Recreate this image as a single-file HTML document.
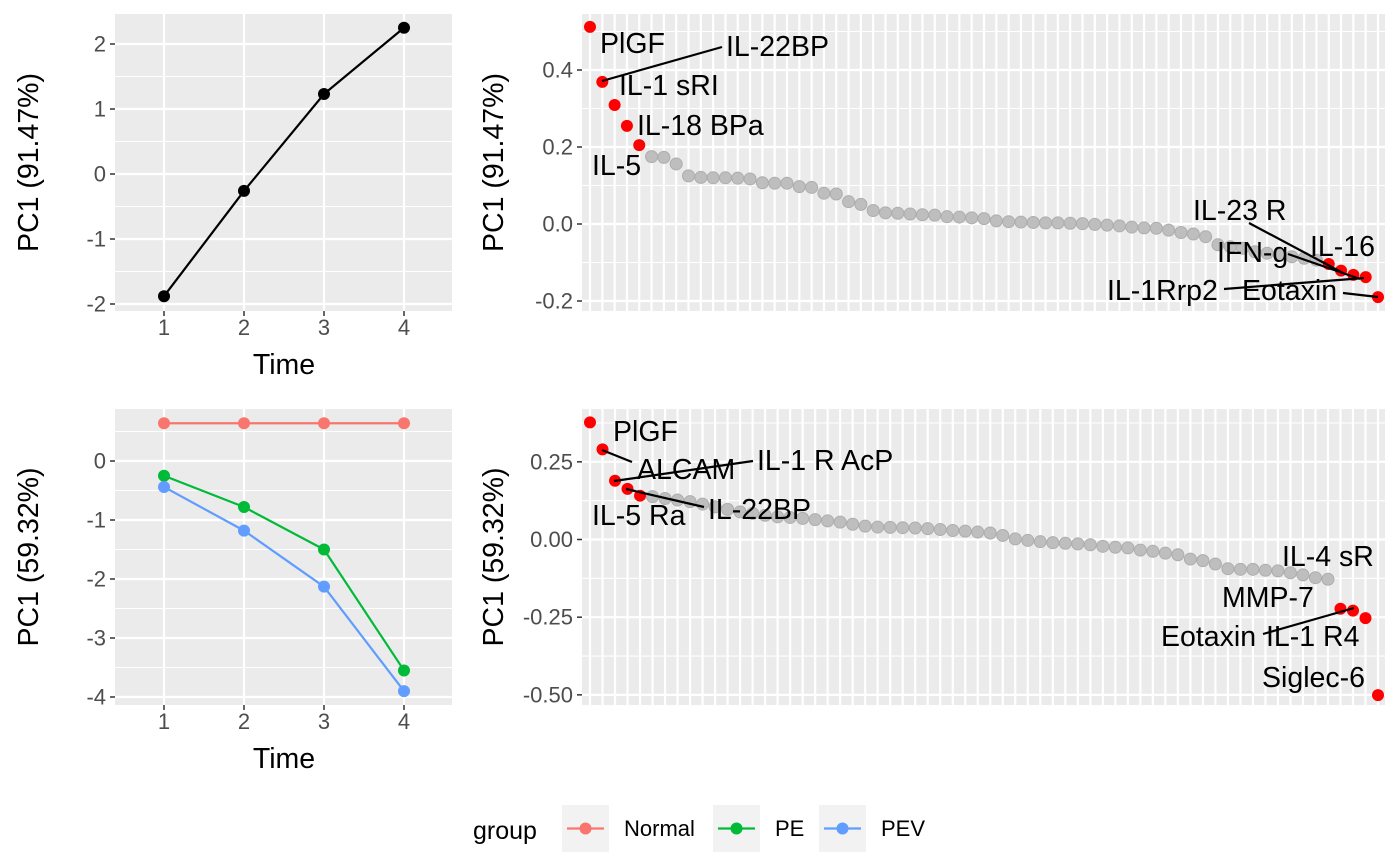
<!DOCTYPE html>
<html><head><meta charset="utf-8"><style>
body{margin:0;background:#fff;}
svg{display:block;font-family:"Liberation Sans",Arial,sans-serif;}
</style></head><body>
<svg id="fig" width="1400" height="866" viewBox="0 0 1400 866" xmlns="http://www.w3.org/2000/svg"></svg>
<script>
// ---- data ----
const timeCats = [1, 2, 3, 4];
const pc1Overall = [-1.88, -0.26, 1.23, 2.25];
const groupNames = ["Normal", "PE", "PEV"];
const groupNormal = [0.64, 0.64, 0.64, 0.64];
const groupPE = [-0.25, -0.78, -1.50, -3.55];
const groupPEV = [-0.44, -1.18, -2.13, -3.90];
const topTicks = [0.4, 0.2, 0.0, -0.2];
const topTickLabels = ["0.4", "0.2", "0.0", "-0.2"];
const botTicks = [0.25, 0.0, -0.25, -0.5];
const botTickLabels = ["0.25", "0.00", "-0.25", "-0.50"];
const leftTopTicks = [2, 1, 0, -1, -2];
const leftBotTicks = [0, -1, -2, -3, -4];
const loadingsTop = [0.512,0.369,0.309,0.255,0.205,
 0.175,0.173,0.156,0.125,0.121,0.120,0.120,0.119,0.117,0.107,0.106,0.106,0.097,0.095,0.080,0.078,0.058,0.051,0.035,0.029,0.028,0.026,0.024,0.023,0.019,0.018,0.016,0.014,0.008,
 0.006,0.005,0.004,0.003,0.003,0.002,0.001,-0.001,-0.003,-0.005,-0.008,-0.010,-0.011,-0.016,-0.022,-0.026,-0.033,
 -0.054,-0.059,-0.063,-0.072,-0.076,-0.081,-0.085,-0.089,-0.094,
 -0.104,-0.121,-0.132,-0.138,-0.190];
const loadingsBot = [0.377,0.290,0.189,0.163,0.141,
 0.138,0.132,0.127,0.122,0.114,0.105,0.097,0.089,0.084,0.078,0.073,0.071,0.068,0.064,0.060,0.056,0.049,0.043,0.040,0.039,0.038,0.037,0.035,0.032,0.029,0.027,0.024,
 0.021,0.013,0.002,-0.003,-0.007,-0.010,-0.012,-0.014,-0.017,-0.022,-0.025,-0.027,-0.034,-0.038,-0.044,-0.049,-0.063,-0.068,-0.079,-0.094,-0.096,-0.096,-0.099,-0.101,-0.107,-0.114,-0.123,
 -0.128,-0.223,-0.229,-0.253,-0.501];
const highlightIdx = [0,1,2,3,4,60,61,62,63,64];

const NS = "http://www.w3.org/2000/svg";
const svg = document.getElementById("fig");
function mk(tag, attrs, parent, text){
  const e = document.createElementNS(NS, tag);
  for (const k in attrs) e.setAttribute(k, attrs[k]);
  if (text !== undefined) e.textContent = text;
  (parent || svg).appendChild(e);
  return e;
}
const TICK = "#4d4d4d";

function panelBg(x0,y0,x1,y1,name){
  const r = mk("rect",{x:x0,y:y0,width:x1-x0,height:y1-y0,fill:"#ebebeb"});
  
  
}
function hLine(x0,x1,y,w){ mk("line",{x1:x0,x2:x1,y1:y,y2:y,stroke:"#fff","stroke-width":w}); }
function vLine(x,y0,y1,w){ mk("line",{x1:x,x2:x,y1:y0,y2:y1,stroke:"#fff","stroke-width":w}); }

function yAxis(P, ticks, labels, titleText, titleX, name){
  const g = mk("g",{});
  
  
  ticks.forEach((t,i)=>{
    const y = P.y(t);
    mk("line",{x1:P.x0-5,x2:P.x0,y1:y,y2:y,stroke:"#333","stroke-width":1.5},g);
    const tl = mk("text",{x:P.x0-9,y:y+7.5,"text-anchor":"end","font-size":22,fill:TICK},g,labels[i]);
    
    
  });
  const cy = (P.y0+P.y1)/2;
  const tt = mk("text",{x:titleX,y:cy,"text-anchor":"middle","font-size":28.5,fill:"#000",transform:`rotate(-90 ${titleX} ${cy}) translate(0 10)`},g,titleText);
  
  
}

// ---------- line panels ----------
function linePanel(y0,y1,yMap,ticks,title,series,name){
  const P = {x0:115,x1:452,y0:y0,y1:y1,y:yMap};
  const xPos = v => 164 + (v-1)*80;
  panelBg(P.x0,P.y0,P.x1,P.y1,name+"-panel");
  for (let i=0;i<ticks.length;i++){ hLine(P.x0,P.x1,P.y(ticks[i]),2.2); }
  for (let i=0;i<ticks.length-1;i++){ const m=(ticks[i]+ticks[i+1])/2; hLine(P.x0,P.x1,P.y(m),1.1); }
  const extra = [ticks[0]+0.5, ticks[ticks.length-1]-0.5];
  extra.forEach(m=>{ const y=P.y(m); if(y>P.y0 && y<P.y1) hLine(P.x0,P.x1,y,1.1); });
  timeCats.forEach(c=>vLine(xPos(c),P.y0,P.y1,2.2));
  series.forEach(s=>{
    const g = mk("g",{});
    
    
    mk("polyline",{points:s.vals.map((v,i)=>xPos(timeCats[i])+","+P.y(v)).join(" "),fill:"none",stroke:s.color,"stroke-width":2.2},g);
    s.vals.forEach((v,i)=>{
      const c = mk("circle",{cx:xPos(timeCats[i]),cy:P.y(v),r:6,fill:s.color},g);
      
      
    });
  });
  yAxis(P,ticks,ticks.map(String),title,28,name+"-y-axis");
  const gx = mk("g",{});
  
  
  timeCats.forEach(c=>{
    mk("line",{x1:xPos(c),x2:xPos(c),y1:P.y1,y2:P.y1+5,stroke:"#333","stroke-width":1.5},gx);
    mk("text",{x:xPos(c),y:P.y1+24,"text-anchor":"middle","font-size":22,fill:TICK},gx,String(c));
  });
  const xt = mk("text",{x:284,y:P.y1+63,"text-anchor":"middle","font-size":28.5,fill:"#000"},gx,"Time");
  
  
}
linePanel(14,311,v=>174-v*65,leftTopTicks,"PC1 (91.47%)",
  [{name:"overall-series",vals:pc1Overall,color:"#000"}],"time-top");
linePanel(409,705,v=>461-v*59,leftBotTicks,"PC1 (59.32%)",
  [{name:"normal-series",vals:groupNormal,color:"#F8766D"},
   {name:"pe-series",vals:groupPE,color:"#00BA38"},
   {name:"pev-series",vals:groupPEV,color:"#619CFF"}],"time-bottom");

// ---------- loading panels ----------
function loadPanel(y0,y1,yMap,ticks,labels,minors,vals,title,name,annots){
  const P = {x0:582,x1:1385,y0:y0,y1:y1,y:yMap};
  const n = vals.length;
  const step = (1378-590)/(n-1);
  const xPos = i => 590 + i*step;
  panelBg(P.x0,P.y0,P.x1,P.y1,name+"-panel");
  minors.forEach(m=>{ const y=P.y(m); if(y>P.y0&&y<P.y1) hLine(P.x0,P.x1,y,1.1); });
  ticks.forEach(t=>hLine(P.x0,P.x1,P.y(t),2.2));
  for(let i=0;i<n;i++) vLine(xPos(i),P.y0,P.y1,2.2);
  const g = mk("g",{});
  
  
  vals.forEach((v,i)=>{
    const hi = highlightIdx.includes(i);
    const c = mk("circle",{cx:xPos(i),cy:P.y(v),r:6,fill:hi?"#FF0000":"#BEBEBE",stroke:hi?"none":"#adadad","stroke-width":1},g);
    
    
  });
  const ga = mk("g",{});
  
  
  annots.forEach(a=>{
    if(a.line) mk("line",{x1:a.line[0],y1:a.line[1],x2:a.line[2],y2:a.line[3],stroke:"#000","stroke-width":2.2},ga);
  });
  annots.forEach(a=>{
    const t = mk("text",{x:a.x,y:a.y+10,"font-size":28.5,fill:"#000"},ga,a.t);
    
    
  });
  yAxis(P,ticks,labels,title,493,name+"-y-axis");
}
loadPanel(14,311,v=>224-v*385,topTicks,topTickLabels,[0.5,0.3,0.1,-0.1,-0.3],loadingsTop,"PC1 (91.47%)","loading-top",[
  {t:"PlGF",x:600,y:43},
  {t:"IL-22BP",x:726,y:46,line:[602,81,722,47]},
  {t:"IL-1 sRI",x:619,y:85},
  {t:"IL-18 BPa",x:637,y:125},
  {t:"IL-5",x:592,y:165},
  {t:"IL-23 R",x:1193,y:210,line:[1249,223,1343,273]},
  {t:"IFN-g",x:1217,y:252,line:[1288,254,1360,279]},
  {t:"IL-16",x:1310,y:246},
  {t:"IL-1Rrp2",x:1107,y:290,line:[1224,289,1364,278]},
  {t:"Eotaxin",x:1242,y:290,line:[1343,293,1378,297]}
]);
loadPanel(409,705,v=>539.5-v*310.7,botTicks,botTickLabels,[0.375,0.125,-0.125,-0.375],loadingsBot,"PC1 (59.32%)","loading-bottom",[
  {t:"PlGF",x:613,y:431},
  {t:"ALCAM",x:637,y:469,line:[602,450,632,462]},
  {t:"IL-1 R AcP",x:757,y:460,line:[614,481,753,461]},
  {t:"IL-5 Ra",x:592,y:515},
  {t:"IL-22BP",x:708,y:509,line:[626,489,704,507]},
  {t:"IL-4 sR",x:1282,y:556},
  {t:"MMP-7",x:1222,y:597},
  {t:"Eotaxin",x:1161,y:636,line:[1263,634,1354,608]},
  {t:"IL-1 R4",x:1266,y:636},
  {t:"Siglec-6",x:1262,y:677}
]);

// ---------- legend ----------
const lg = mk("g",{});


const lt = mk("text",{x:473,y:839,"font-size":25,fill:"#000"},lg,"group");


const legendColors = ["#F8766D","#00BA38","#619CFF"];
const legendBoxX = [562,713,819];
groupNames.forEach((nm,i)=>{
  const e = mk("g",{},lg);
  
  
  const bx = legendBoxX[i];
  mk("rect",{x:bx,y:805,width:47,height:47,fill:"#f2f2f2"},e);
  mk("line",{x1:bx+5,x2:bx+42,y1:828.5,y2:828.5,stroke:legendColors[i],"stroke-width":2.2},e);
  mk("circle",{cx:bx+23.5,cy:828.5,r:6,fill:legendColors[i]},e);
  mk("text",{x:bx+62,y:836,"font-size":22,fill:"#000"},e,nm);
});
</script>
</body></html>
